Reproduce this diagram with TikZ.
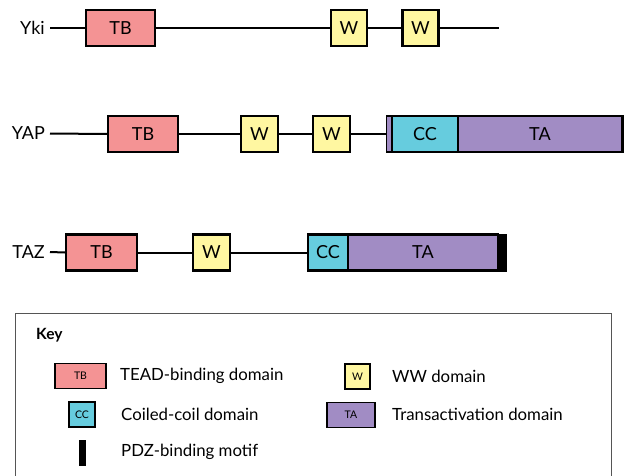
\documentclass[tikz,border=0pt]{standalone}
\usepackage{fontspec}
\setmainfont{Lato}
\definecolor{tbcol}{HTML}{F49394}
\definecolor{wcol}{HTML}{FFF7A1}
\definecolor{cccol}{HTML}{66CCDE}
\definecolor{tacol}{HTML}{A18CC4}
\definecolor{keyline}{HTML}{555555}
\begin{document}
\begin{tikzpicture}[x=1pt,y=-1pt,
  dom/.style={draw=black, line width=2.2pt, inner sep=0pt, minimum height=36pt, anchor=center,
    font=\fontsize{18}{20}\selectfont},
  keydom/.style={draw=black, line width=1.5pt, inner sep=0pt, minimum height=25pt, anchor=center,
    font=\fontsize{10.5}{12}\selectfont},
  prot/.style={anchor=east, inner sep=0pt, font=\fontsize{18}{20}\selectfont},
  link/.style={draw=black, line width=2pt},
  keytxt/.style={anchor=west, inner sep=0pt, font=\fontsize{16.8}{19}\selectfont}]
\clip (0,0) rectangle (626,476);
\fill[white] (0,0) rectangle (626,476);

% ---------- Yki ----------
\node[prot] (ykiL) at (45,28) {Yki};
\coordinate (yki0) at (50,28);
\coordinate (yki1) at (499,28);
\node[dom, fill=tbcol, minimum width=69pt] (ykiTB) at (120.5,28) {TB};
\node[dom, fill=wcol, minimum width=36pt] (ykiW1) at (349,28) {W};
\node[dom, fill=wcol, minimum width=36pt] (ykiW2) at (420.5,28) {W};
\draw[link] (yki0) -- (ykiTB.west);
\draw[link] (ykiTB.east) -- (ykiW1.west);
\draw[link] (ykiW1.east) -- (ykiW2.west);
\draw[link] (ykiW2.east) -- (yki1);

% ---------- YAP ----------
\node[prot] (yapL) at (45,133.5) {YAP};
\coordinate (yap0) at (50,133.5);
\node[dom, fill=tbcol, minimum width=70pt] (yapTB) at (143,134) {TB};
\node[dom, fill=wcol, minimum width=37pt] (yapW1) at (259.5,134) {W};
\node[dom, fill=wcol, minimum width=37pt] (yapW2) at (331.5,134) {W};
\node[dom, fill=tacol, minimum width=5pt, line width=1.6pt] (yapS) at (389,134) {};
\node[dom, fill=cccol, minimum width=66pt] (yapCC) at (425,134) {CC};
\node[dom, fill=tacol, minimum width=164pt] (yapTA) at (540,134) {TA};
\node[fill=black, inner sep=0pt, minimum width=3pt, minimum height=38pt] (yapPDZ) at (622,134) {};
\draw[link] (yap0) -- (yapTB.west);
\draw[link] (yapTB.east) -- (yapW1.west);
\draw[link] (yapW1.east) -- (yapW2.west);
\draw[link] (yapW2.east) -- (yapS.west);

% ---------- TAZ ----------
\node[prot] (tazL) at (45,252) {TAZ};
\coordinate (taz0) at (50,252);
\node[dom, fill=tbcol, minimum width=71pt] (tazTB) at (101.5,252.5) {TB};
\node[dom, fill=wcol, minimum width=37pt] (tazW) at (211.5,252.5) {W};
\node[dom, fill=cccol, minimum width=40pt] (tazCC) at (328,252.5) {CC};
\node[dom, fill=tacol, minimum width=150pt] (tazTA) at (423,252.5) {TA};
\node[fill=black, inner sep=0pt, minimum width=9pt, minimum height=38pt] (tazPDZ) at (502.5,252.5) {};
\draw[link] (taz0) -- (tazTB.west);
\draw[link] (tazTB.east) -- (tazW.west);
\draw[link] (tazW.east) -- (tazCC.west);

% ---------- Key ----------
\draw[keyline, line width=1pt] (15,313.5) rectangle (611.5,490);
\node[anchor=west, inner sep=0pt, font=\fontsize{15.5}{18}\selectfont\bfseries] (keyT) at (36,335) {Key};
\node[keydom, fill=tbcol, minimum width=51pt] (kTB) at (80.5,376) {TB};
\node[keytxt] (kTBt) at (120,376) {TEAD-binding domain};
\node[keydom, fill=cccol, minimum width=26pt] (kCC) at (82,414.5) {CC};
\node[keytxt] (kCCt) at (121,414) {Coiled-coil domain};
\node[fill=black, inner sep=0pt, minimum width=7pt, minimum height=26pt] (kPDZ) at (82.5,453) {};
\node[keytxt] (kPDZt) at (121,452) {PDZ-binding motif};
\node[keydom, fill=wcol, minimum width=25pt] (kW) at (357.5,376.5) {W};
\node[keytxt] (kWt) at (392,376) {WW domain};
\node[keydom, fill=tacol, minimum width=48pt] (kTA) at (351,415) {TA};
\node[keytxt] (kTAt) at (392,414) {Transactivation domain};
\end{tikzpicture}
\end{document}
